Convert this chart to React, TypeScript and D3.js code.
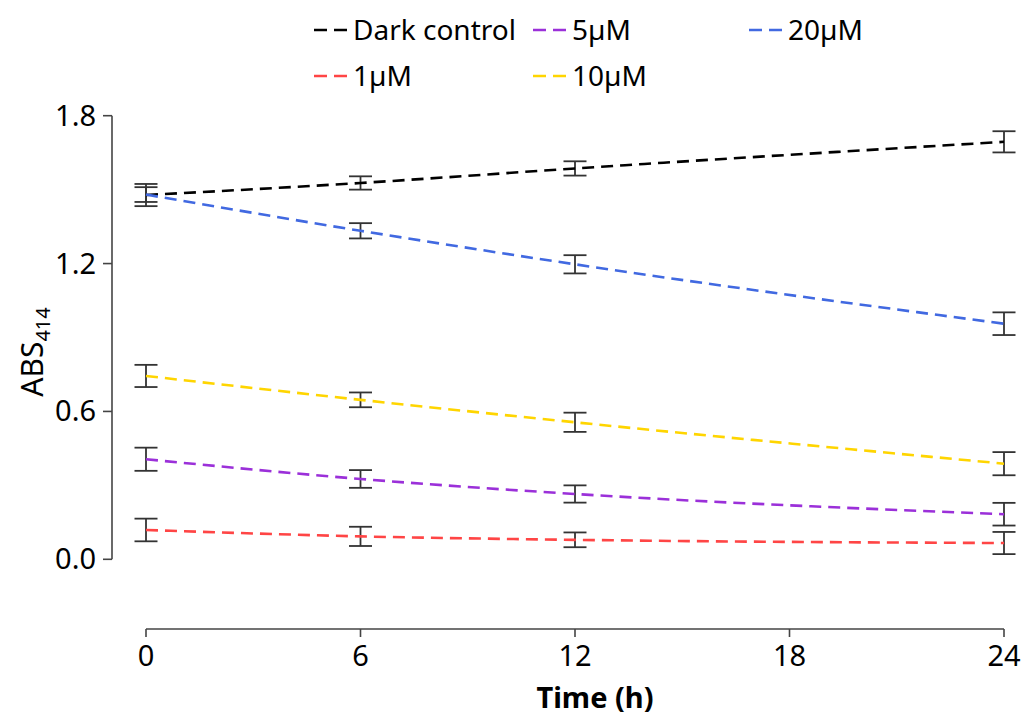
import React from "react";
import * as d3 from "d3";

const times = [0, 6, 12, 24];
const seriesNames = ["Dark control", "1µM", "5µM", "10µM", "20µM"];
const seriesColors = ["#000000", "#FF4545", "#9B30D9", "#FFD500", "#4169E1"];
const darkMeans = [1.478, 1.527, 1.586, 1.694];
const darkErr = [0.045, 0.027, 0.029, 0.043];
const m1Means = [0.119, 0.093, 0.079, 0.066];
const m1Err = [0.046, 0.039, 0.030, 0.045];
const m5Means = [0.406, 0.326, 0.265, 0.183];
const m5Err = [0.047, 0.036, 0.035, 0.046];
const m10Means = [0.744, 0.647, 0.556, 0.388];
const m10Err = [0.045, 0.030, 0.039, 0.047];
const m20Means = [1.480, 1.333, 1.197, 0.956];
const m20Err = [0.030, 0.031, 0.037, 0.046];
const yTicks = [0, 0.6, 1.2, 1.8];
const xTicks = [0, 6, 12, 18, 24];

const allMeans = [darkMeans, m1Means, m5Means, m10Means, m20Means];
const allErr = [darkErr, m1Err, m5Err, m10Err, m20Err];

const FONT = "'Noto Sans', sans-serif";

export default function App() {
  const x = d3.scaleLinear().domain([0, 24]).range([146, 1004]);
  const y = d3.scaleLinear().domain([0, 1.8]).range([559.3, 115.7]);
  const line = d3
    .line<[number, number]>()
    .x((d) => x(d[0]))
    .y((d) => y(d[1]))
    .curve(d3.curveMonotoneX);

  const axisColor = "#444";
  const xAxisY = 629;
  const yAxisX = 112;

  const legendItems = [
    { i: 0, lx: 314, ly: 30 },
    { i: 2, lx: 533, ly: 30 },
    { i: 4, lx: 749, ly: 30 },
    { i: 1, lx: 314, ly: 76 },
    { i: 3, lx: 533, ly: 76 },
  ];

  return (
    <svg
      width={1023}
      height={720}
      style={{ position: "absolute", left: 0, top: 0, background: "#fff" }}
      fontFamily={FONT}
    >
      {/* legend */}
      {legendItems.map(({ i, lx, ly }) => (
        <g key={i}>
          <line
            x1={lx}
            x2={lx + 33}
            y1={ly}
            y2={ly}
            stroke={seriesColors[i]}
            strokeWidth={2.5}
            strokeDasharray="13,7"
          />
          <text x={lx + 39} y={ly + 10} fontSize={28} fill="#000">
            {seriesNames[i]}
          </text>
        </g>
      ))}

      {/* y axis */}
      <line x1={yAxisX} x2={yAxisX} y1={y(1.8)} y2={y(0)} stroke={axisColor} strokeWidth={1.6} />
      {yTicks.map((t) => (
        <g key={t}>
          <line x1={yAxisX - 9} x2={yAxisX} y1={y(t)} y2={y(t)} stroke={axisColor} strokeWidth={1.6} />
          <text x={yAxisX - 16} y={y(t) + 10} fontSize={29} textAnchor="end" fill="#000">
            {t.toFixed(1)}
          </text>
        </g>
      ))}
      <text
        transform={`translate(43, 352) rotate(-90)`}
        fontSize={30}
        textAnchor="middle"
        fill="#000"
      >
        ABS
        <tspan fontSize={20} dy={7}>
          414
        </tspan>
      </text>

      {/* x axis */}
      <line x1={x(0)} x2={x(24)} y1={xAxisY} y2={xAxisY} stroke={axisColor} strokeWidth={1.6} />
      {xTicks.map((t) => (
        <g key={t}>
          <line x1={x(t)} x2={x(t)} y1={xAxisY} y2={xAxisY + 8} stroke={axisColor} strokeWidth={1.6} />
          <text x={x(t)} y={xAxisY + 37} fontSize={29} textAnchor="middle" fill="#000">
            {t}
          </text>
        </g>
      ))}
      <text x={595} y={708} fontSize={29} fontWeight="bold" textAnchor="middle" fill="#000">
        Time (h)
      </text>

      {/* error bars */}
      {allMeans.map((means, si) =>
        means.map((m, j) => {
          const e = allErr[si][j];
          const cx = x(times[j]);
          return (
            <g key={`${si}-${j}`} stroke="#333" strokeWidth={1.8}>
              <line x1={cx} x2={cx} y1={y(m + e)} y2={y(m - e)} />
              <line x1={cx - 11.5} x2={cx + 11.5} y1={y(m + e)} y2={y(m + e)} />
              <line x1={cx - 11.5} x2={cx + 11.5} y1={y(m - e)} y2={y(m - e)} />
            </g>
          );
        })
      )}

      {/* lines */}
      {allMeans.map((means, si) => (
        <path
          key={si}
          d={line(times.map((t, j) => [t, means[j]] as [number, number])) || ""}
          fill="none"
          stroke={seriesColors[si]}
          strokeWidth={2.6}
          strokeDasharray="12,7"
        />
      ))}
    </svg>
  );
}
